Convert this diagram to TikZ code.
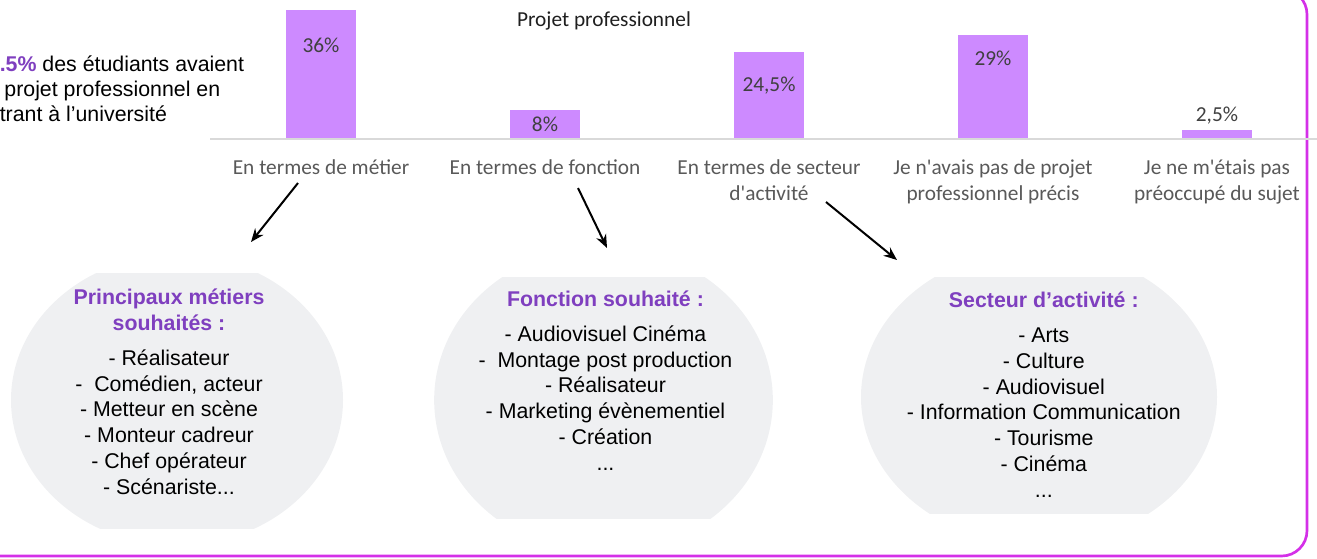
\documentclass[tikz,border=0pt]{standalone}
\usepackage{fontspec}
\setmainfont{Liberation Sans}
\newfontfamily\calibri{Carlito}
\usetikzlibrary{arrows.meta}

\definecolor{barviolet}{RGB}{205,138,255}
\definecolor{titleviolet}{RGB}{127,63,191}
\definecolor{framemagenta}{RGB}{212,48,232}
\definecolor{bubblegray}{RGB}{239,240,242}
\definecolor{labelgray}{RGB}{89,89,89}
\definecolor{axisgray}{RGB}{217,217,217}
\definecolor{valuegray}{RGB}{64,64,64}

\newcommand\chartfont{\calibri\fontsize{16}{19.5}\selectfont}

\begin{document}
\begin{tikzpicture}[x=0.75pt,y=-0.75pt,
  cat/.style={font=\chartfont,text=labelgray,align=center,anchor=base,inner sep=0pt},
  pct/.style={font=\chartfont,text=valuegray,anchor=base,inner sep=0pt},
  btitle/.style={font=\fontsize{16}{18.8}\selectfont\bfseries,text=titleviolet,align=center,anchor=base,inner sep=0pt},
  bitems/.style={font=\fontsize{16}{19.3}\selectfont,align=center,anchor=base,inner sep=0pt},
  pointer/.style={line width=1.5pt,-{Stealth[length=10pt,width=8pt]}}]
\useasboundingbox (0,0) rectangle (1317,558);

\def\bubbleone{(177,400) ellipse [x radius=124.5pt, y radius=109pt]}
\def\bubbletwo{(603.5,400) ellipse [x radius=127pt, y radius=115pt]}
\def\bubblethree{(1039,397) ellipse [x radius=133.5pt, y radius=111pt]}

\begin{scope} % bubbles cut flat top and bottom
\clip (0,273) rectangle (400,528);
\fill[bubblegray] \bubbleone;
\end{scope}
\begin{scope}
\clip (400,277) rectangle (800,518);
\fill[bubblegray] \bubbletwo;
\end{scope}
\begin{scope}
\clip (850,277) rectangle (1250,513);
\fill[bubblegray] \bubblethree;
\end{scope}

\draw[framemagenta, line width=2pt, rounded corners=19pt] (-40,-11) rectangle (1307,556);

% bars
\foreach \i/\x/\p/\t/\b in {1/321/36/36\%/52, 2/545/8/8\%/131, 3/769/24.5/{24,5\%}/91,
  4/993/29/29\%/65, 5/1217/2.5/{2,5\%}/121} {
  \fill[barviolet] (\x-35,139) rectangle (\x+35,139-3.57*\p);
  \node[pct] (val\i) at (\x,\b) {\t};
}
\draw[axisgray, line width=1.5pt] (210,139) -- (1317,139);

\node[font=\chartfont, text=black!88, anchor=base, inner sep=0pt] (titre) at (604,26.5) {Projet professionnel};

% base of a two-line label is its last line
\foreach \i/\x/\y/\t in {1/321/174/En termes de métier, 2/545/174/En termes de fonction,
  3/769/200/{En termes de secteur\\d'activité}, 4/993/200/{Je n'avais pas de projet\\professionnel précis},
  5/1217/200/{Je ne m'étais pas\\préoccupé du sujet}}
  \node[cat] (cat\i) at (\x,\y) {\t};

\node[font=\fontsize{16}{18.8}\selectfont, align=left, anchor=base west, inner sep=0pt] (intro) at (-0.5,121.5)
  {{\color{titleviolet}\bfseries .5\%} des étudiants avaient\\\hspace*{3.5pt}projet professionnel en\\trant à l’université};

\node[btitle] (titre1) at (169,330) {Principaux métiers\\souhaités :};
\node[bitems] (liste1) at (169,494) {- Réalisateur\\-\ \ Comédien, acteur\\- Metteur en scène\\- Monteur cadreur\\- Chef opérateur\\- Scénariste...};

\node[btitle] (titre2) at (605.5,306.7) {Fonction souhaité :};
\node[bitems] (liste2) at (605.5,470) {- Audiovisuel Cinéma\\-\ \ Montage post production\\- Réalisateur\\- Marketing évènementiel\\- Création\\...};

\node[btitle] (titre3) at (1043.8,307.7) {Secteur d’activité :};
\node[bitems] (liste3) at (1043.8,497) {- Arts\\- Culture\\- Audiovisuel\\- Information Communication\\- Tourisme\\- Cinéma\\...};

\coordinate (from1) at (298,183);
\coordinate (to1) at (251,242);
\coordinate (from2) at (578,188);
\coordinate (to2) at (607,248);
\coordinate (from3) at (826,202);
\coordinate (to3) at (897,260);
\foreach \i in {1,2,3}
  \draw[pointer] (from\i) -- (to\i);
\end{tikzpicture}
\end{document}
